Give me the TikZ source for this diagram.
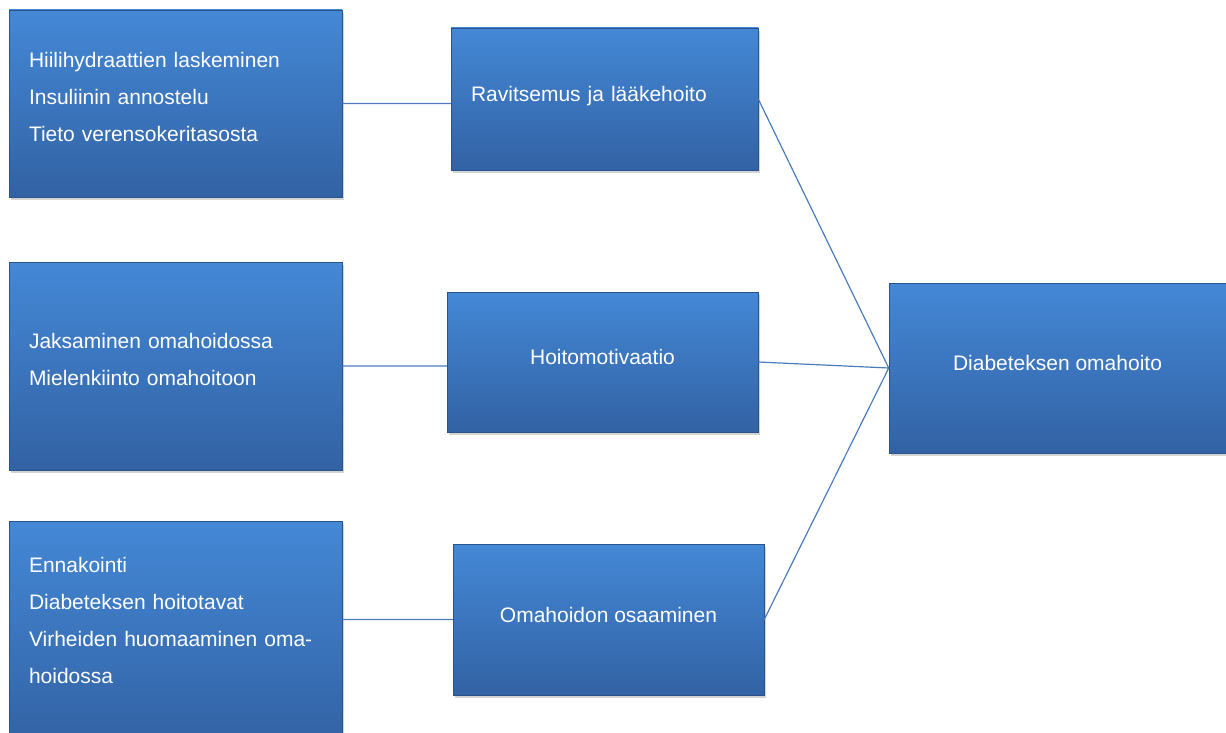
\documentclass[tikz,border=0pt]{standalone}
\usepackage{fontspec}
\setmainfont{Liberation Sans}
\usepackage{tikz}
\usetikzlibrary{positioning, shadows, calc}
\definecolor{boxtop}{RGB}{68,136,214}
\definecolor{boxbottom}{RGB}{50,98,164}
\definecolor{linkblue}{RGB}{74,124,188}

\begin{document}
\begin{tikzpicture}[x=1pt, y=-1pt,
            box/.style={draw=boxbottom!85!black, line width=0.5pt, top color=boxtop, bottom color=boxbottom,
              text=white, font=\fontsize{21}{37}\selectfont, inner ysep=0pt, text depth=10pt,
              drop shadow={opacity=0.35, shadow xshift=2pt, shadow yshift=-3pt}},
            leftbox/.style={box, inner xsep=20pt, text width=293pt, align=left},
            link/.style={draw=linkblue, line width=1.2pt}]
          \useasboundingbox (0,0) rectangle (1226,733);
          % Vasen sarake
          \node[leftbox, minimum height=187pt, text depth=88pt] (K1) at (175.5,103.5)
            {Hiilihydraattien laskeminen\\Insuliinin annostelu\\Tieto verensokeritasosta};
          \node[leftbox, minimum height=208pt, text depth=51pt] (K2) at (175.5,366)
            {Jaksaminen omahoidossa\\Mielenkiinto omahoitoon};
          \node[leftbox, minimum height=224pt, text depth=137pt] (K3) at (175.5,633)
            {Ennakointi\\Diabeteksen hoitotavat\\Virheiden huomaaminen oma-\\hoidossa};
          % Keskimmainen sarake
          \node[box, inner xsep=20pt, text width=267pt, align=left, minimum height=142pt] (A) at (604.5,99)
            {Ravitsemus ja lääkehoito};
          \node[box, minimum width=311pt, minimum height=140pt] (B) at (602.5,362) {Hoitomotivaatio};
          \node[box, minimum width=311pt, minimum height=151pt] (C) at (608.5,619.5) {Omahoidon osaaminen};
          % Oikea
          \node[box, minimum width=337pt, minimum height=170pt] (D) at (1057.5,368) {Diabeteksen omahoito};
          \path[link] (K1.east) -- (K1.east -| A.west)
                (K2.east) -- (K2.east -| B.west)
                (C.west -| K3.east) -- (C.west)
                (A.east) -- (D.west)
                (B.east) -- (D.west)
                (C.east) -- (D.west);
        \end{tikzpicture}
\end{document}
